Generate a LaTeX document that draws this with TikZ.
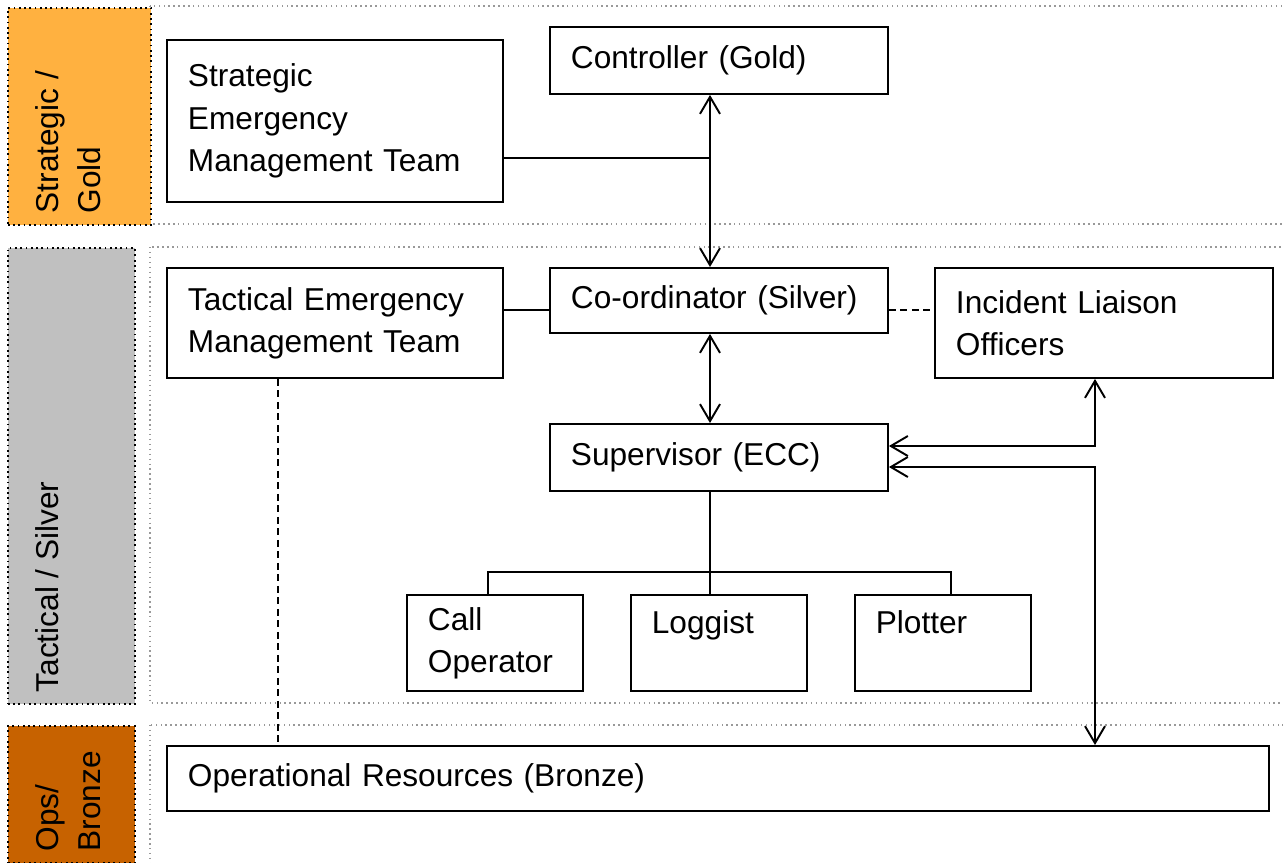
\documentclass[tikz,border=0pt]{standalone}
\usepackage{fontspec}
\setmainfont{Liberation Sans}
\usetikzlibrary{positioning,arrows.meta}

\definecolor{goldband}{RGB}{255,177,64}
\definecolor{silverband}{RGB}{192,192,192}
\definecolor{bronzeband}{RGB}{199,98,0}

\tikzset{
	box/.style={draw, line width=1.1pt, anchor=north west, align=left, inner xsep=0.42cm, font=\fontsize{18}{24}\selectfont},
	tag/.style={draw, dotted, line width=1pt, anchor=north west, inner sep=0pt},
	tagtext/.style={rotate=90, anchor=north west, align=left, inner xsep=0.24cm, inner ysep=0.56cm, font=\fontsize{18}{24}\selectfont},
	area/.style={draw=gray!80, dotted, line width=0.8pt},
	link/.style={line width=1.1pt},
	both/.style={link, {Straight Barb[length=3.4mm,width=4mm]}-{Straight Barb[length=3.4mm,width=4mm]}},
	dashlink/.style={link, dash pattern=on 1.4mm off 0.9mm}
}

\begin{document}
\begin{tikzpicture}[x=0.2mm, y=-0.2mm]
	\useasboundingbox (0,0) rectangle (1283,862);
	% levels
	\draw[area] (150,6) rectangle (1300,224);
	\draw[area] (150,247) rectangle (1300,703);
	\draw[area] (150,725) rectangle (1300,880);
	\node[tag, fill=goldband, minimum width=2.86cm, minimum height=4.34cm] (goldtag) at (7,7) {};
	\node[tag, fill=silverband, minimum width=2.54cm, minimum height=9.12cm] (silvertag) at (7,247) {};
	\node[tag, fill=bronzeband, minimum width=2.54cm, minimum height=2.74cm] (bronzetag) at (7,725) {};
	\node[tagtext] (goldtxt) at (goldtag.south west) {Strategic /\\Gold};
	\node[tagtext] (silvertxt) at (silvertag.south west) {Tactical / Silver};
	\node[tagtext] (bronzetxt) at (bronzetag.south west) {Ops/\\Bronze};

	% boxes
	\node[box, text width=5.88cm, minimum height=3.24cm] (setm) at (166,39) {Strategic\\Emergency\\Management Team};
	\node[box, text width=5.92cm, minimum height=1.34cm] (ctrl) at (549,26) {Controller (Gold)};
	\node[box, text width=5.88cm, minimum height=2.2cm] (temt) at (166,267) {Tactical Emergency\\Management Team};
	\node[box, text width=5.92cm, minimum height=1.3cm] (coord) at (549,267) {Co-ordinator (Silver)};
	\node[box, text width=5.92cm, minimum height=2.2cm] (ilo) at (934,267) {Incident Liaison\\Officers};
	\node[box, text width=5.92cm, minimum height=1.34cm] (sup) at (549,423) {Supervisor (ECC)};
	\node[box, text width=2.68cm, minimum height=1.92cm] (callop) at (406,594) {Call\\Operator};
	\node[box, text width=2.68cm, minimum height=1.92cm, right=0.92cm of callop.north east, anchor=north west] (logg) {Loggist\\\mbox{}};
	\node[box, text width=2.68cm, minimum height=1.92cm, right=0.92cm of logg.north east, anchor=north west] (plot) {Plotter\\\mbox{}};
	\node[box, text width=21.2cm, minimum height=1.3cm] (ops) at (166,745) {Operational Resources (Bronze)};

	% connectors
	\coordinate (tee) at (710,158);
	\coordinate (lvl) at (0,310);
	\coordinate (r1) at (1095,446);
	\coordinate (r2) at (1095,467);
	\coordinate (fork) at (710,572);
	\coordinate (drop) at (278,0);
	\draw[link] (setm.east |- tee) -- (tee);
	\draw[both] (ctrl.south -| tee) -- (coord.north -| tee);
	\draw[link] (temt.east |- lvl) -- (coord.west |- lvl);
	\draw[dashlink] (coord.east |- lvl) -- (ilo.west |- lvl);
	\draw[both] (coord.south -| tee) -- (sup.north -| tee);
	\draw[both] (sup.east |- r1) -- (r1) -- (ilo.south -| r1);
	\draw[both] (sup.east |- r2) -- (r2) -- (ops.north -| r2);
	\draw[link] (sup.south -| fork) -- (logg.north -| fork);
	\draw[link] ([xshift=-1.4mm]callop.north) |- (fork) -| ([xshift=1.6mm]plot.north);
	\draw[dashlink] (temt.south -| drop) -- (ops.north -| drop);
\end{tikzpicture}
\end{document}
